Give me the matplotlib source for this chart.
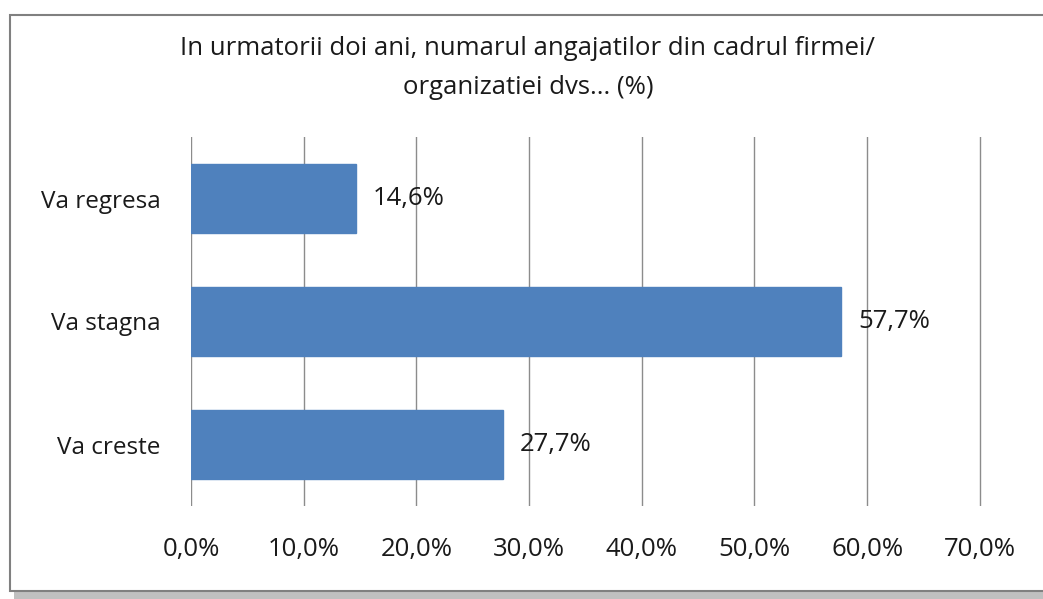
import matplotlib
matplotlib.use("Agg")
import matplotlib.pyplot as plt
from matplotlib.patches import Rectangle
from matplotlib import font_manager

categories = ["Va creste", "Va stagna", "Va regresa"]
values = [27.7, 57.7, 14.6]
xticks = [0, 10, 20, 30, 40, 50, 60, 70]
xtick_labels = ["0,0%", "10,0%", "20,0%", "30,0%", "40,0%", "50,0%", "60,0%", "70,0%"]
value_labels = ["27,7%", "57,7%", "14,6%"]
title = "In urmatorii doi ani, numarul angajatilor din cadrul firmei/\norganizatiei dvs... (%)"

names = {f.name for f in font_manager.fontManager.ttflist}
base_font = "Open Sans" if "Open Sans" in names else "DejaVu Sans"
plt.rcParams['font.family'] = [base_font, 'DejaVu Sans']

W, H = 1043, 599
fig = plt.figure(figsize=(W / 100, H / 100), dpi=100)
fig.patch.set_facecolor("white")

# outer frame with shadow
fig.add_artist(Rectangle((14 / W, 0), 1.2, (H - 20) / H, transform=fig.transFigure,
                         facecolor="#c0c0c0", edgecolor="none", zorder=0))
fig.add_artist(Rectangle((10 / W, 8 / H), 1.2, (H - 23) / H, transform=fig.transFigure,
                         facecolor="white", edgecolor="#808080", linewidth=1.5, zorder=1))

ax = fig.add_axes([191 / W, 1 - 506 / H, (982 - 191) / W, (506 - 137) / H])
ax.set_zorder(2)
ax.patch.set_alpha(0)

y = list(range(len(categories)))
ax.barh(y, values, height=0.565, color="#4F81BD", edgecolor="#4F81BD", zorder=3)
for yi, v, lab in zip(y, values, value_labels):
    ax.text(v + 1.5, yi, lab, va="center", ha="left", fontsize=18.5, color="#1a1a1a")

ax.set_xlim(0, 70.2)
ax.set_ylim(-0.5, 2.5)
ax.set_xticks(xticks)
ax.set_xticklabels(xtick_labels, fontsize=18.5, color="#1a1a1a")
ax.set_yticks(y)
ax.set_yticklabels(categories, fontsize=17.5, color="#1a1a1a")
ax.tick_params(axis="x", length=0, pad=22)
ax.tick_params(axis="y", length=0, pad=22)
ax.grid(axis="x", color="#8c8c8c", linewidth=1.0, zorder=0)
for s in ax.spines.values():
    s.set_visible(False)

fig.text(528 / W, 1 - 68 / H, title, ha="center", va="center", fontsize=18.5,
         color="#1a1a1a", linespacing=1.75)

fig.savefig("out.png", dpi=100)
